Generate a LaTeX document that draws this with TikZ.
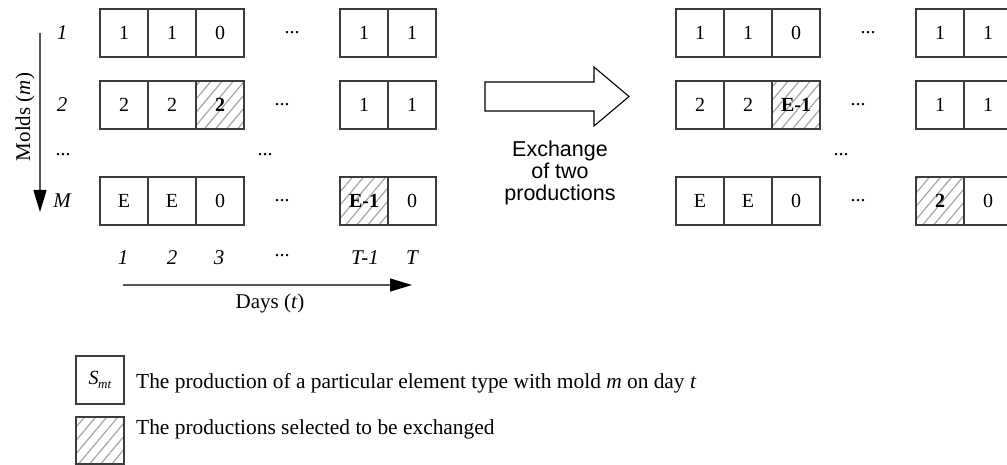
\documentclass[tikz,border=0pt]{standalone}
\usepackage{fontspec}
\setmainfont{Liberation Serif}
\newfontfamily\arialfnt{Liberation Sans}
\usetikzlibrary{arrows.meta,patterns.meta}

\definecolor{cellline}{RGB}{60,60,60}
\definecolor{hatchgray}{RGB}{165,165,165}
\definecolor{axisline}{RGB}{85,85,85}

\newcommand\cellfnt{\fontsize{20}{24}\selectfont}
\newcommand\lblfnt{\fontsize{21}{25}\selectfont}
\newcommand\notefnt{\fontsize{21.4}{25}\selectfont}

\begin{document}
\begin{tikzpicture}[x=1pt,y=-1pt,
  cell/.style={draw=cellline,line width=1.2pt,minimum width=48pt,minimum height=48pt,
    inner sep=0pt,font=\cellfnt},
  picked/.style={cell,pattern={Lines[angle=50,distance=8.5pt,line width=1.2pt]},
    pattern color=hatchgray,font=\cellfnt\bfseries},
  lbl/.style={inner sep=0pt,font=\lblfnt},
  ilbl/.style={inner sep=0pt,font=\lblfnt\itshape},
  dots/.style={inner sep=0pt,font=\cellfnt},
  axis/.style={draw=axisline,line width=1.3pt,
    -{Triangle[length=22pt,width=13pt,color=black,fill=black]}},
  bigarrow/.style={draw=black,line width=1.1pt,fill=white,line join=miter},
  note/.style={inner sep=0pt,font=\notefnt,anchor=base west}]

\useasboundingbox (0,0) rectangle (1007,465);
\clip (0,0) rectangle (1007,465);

% ---------- schedule before the exchange ----------
% mold 1
\node[cell] (a11) at (124,33) {1};
\node[cell] (a12) at (172,33) {1};
\node[cell] (a13) at (220,33) {0};
\node[dots] (a1d) at (292,33) {...};
\node[cell] (a1p) at (364,33) {1};
\node[cell] (a1T) at (412,33) {1};
% mold 2
\node[cell] (a21) at (124,105) {2};
\node[cell] (a22) at (172,105) {2};
\node[picked] (a23) at (220,105) {2};
\node[dots] (a2d) at (282,105) {...};
\node[cell] (a2p) at (364,105) {1};
\node[cell] (a2T) at (412,105) {1};
% intermediate molds
\node[dots] (amd) at (265,155) {...};
% mold M
\node[cell] (aM1) at (124,201) {E};
\node[cell] (aM2) at (172,201) {E};
\node[cell] (aM3) at (220,201) {0};
\node[dots] (aMd) at (282,201) {...};
\node[picked] (aMp) at (364,201) {E-1};
\node[cell] (aMT) at (412,201) {0};

% mold labels
\node[ilbl] (m1) at (62,33) {1};
\node[ilbl] (m2) at (62,105) {2};
\node[dots] (md) at (63,155) {...};
\node[ilbl] (mM) at (62,201) {M};

% day labels
\node[ilbl] (t1) at (123,258) {1};
\node[ilbl] (t2) at (172,258) {2};
\node[ilbl] (t3) at (219,258) {3};
\node[dots] (td) at (282,256) {...};
\node[ilbl] (tp) at (365,258) {T-1};
\node[ilbl] (tT) at (412,258) {T};

% axes
\coordinate (moldsStart) at (40,33);
\coordinate (moldsEnd) at (40,212);
\draw[axis] (moldsStart) -- (moldsEnd);
\node[lbl,rotate=90] (moldsLbl) at (25,117) {Molds (\textit{m})};

\coordinate (daysStart) at (123,285);
\coordinate (daysEnd) at (412,285);
\draw[axis] (daysStart) -- (daysEnd);
\node[lbl] (daysLbl) at (270,303) {Days (\textit{t})};

% ---------- exchange arrow ----------
\draw[bigarrow] (485,82) -- (594,82) -- (594,67) -- (629,96.5) -- (594,126)
  -- (594,111) -- (485,111) -- cycle;
\node[inner sep=0pt,align=center,font=\arialfnt\fontsize{21.5}{22}\selectfont]
  (swapLbl) at (560,173) {Exchange\\of two\\productions};

% ---------- schedule after the exchange ----------
% mold 1
\node[cell] (b11) at (700,33) {1};
\node[cell] (b12) at (748,33) {1};
\node[cell] (b13) at (796,33) {0};
\node[dots] (b1d) at (868,33) {...};
\node[cell] (b1p) at (940,33) {1};
\node[cell] (b1T) at (988,33) {1};
% mold 2
\node[cell] (b21) at (700,105) {2};
\node[cell] (b22) at (748,105) {2};
\node[picked] (b23) at (796,105) {E-1};
\node[dots] (b2d) at (858,105) {...};
\node[cell] (b2p) at (940,105) {1};
\node[cell] (b2T) at (988,105) {1};
% intermediate molds
\node[dots] (bmd) at (841,155) {...};
% mold M
\node[cell] (bM1) at (700,201) {E};
\node[cell] (bM2) at (748,201) {E};
\node[cell] (bM3) at (796,201) {0};
\node[dots] (bMd) at (858,201) {...};
\node[picked] (bMp) at (940,201) {2};
\node[cell] (bMT) at (988,201) {0};

% ---------- legend ----------
\node[cell] (keyCell) at (100,380) {\textit{S}\kern-0.5pt\raisebox{-4pt}{\fontsize{13}{13}\selectfont\textit{mt}}};
\node[note] (keyCellTxt) at (136,388)
  {The production of a particular element type with mold \textit{m} on day \textit{t}};
\node[picked,minimum height=47pt] (keyPick) at (100,440.5) {};
\node[note] (keyPickTxt) at (136,434) {The productions selected to be exchanged};

\end{tikzpicture}
\end{document}
